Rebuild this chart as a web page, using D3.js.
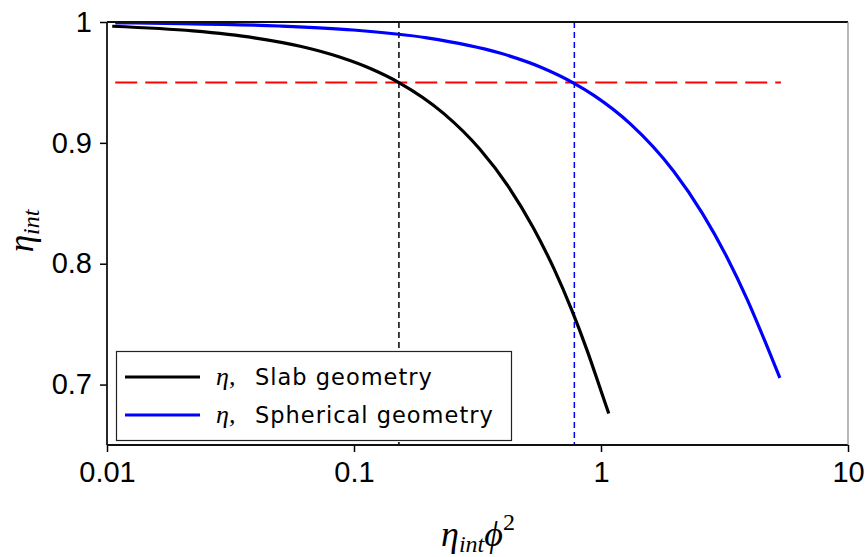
<!DOCTYPE html>
<html>
<head>
<meta charset="utf-8">
<script src="https://cdn.jsdelivr.net/npm/d3@7/dist/d3.min.js"></script>
<style>
  html, body { margin: 0; padding: 0; background: #fff; }
  svg { display: block; }
  .tick text { font-family: "Liberation Sans", Arial, sans-serif; }
</style>
</head>
<body>
<svg id="chart" width="865" height="557"></svg>
<script>
// Effectiveness factor vs. eta*phi^2 for slab and spherical catalyst geometry
const slabX = [0.0105, 0.0223, 0.0395, 0.0612, 0.0874, 0.1177, 0.152, 0.2311, 0.3222, 0.4231, 0.5312, 0.6447, 0.7616, 0.8806, 1.0004, 1.075];
const slabY = [0.9965, 0.9926, 0.9869, 0.9797, 0.9710, 0.9611, 0.9499, 0.9242, 0.8951, 0.8634, 0.8300, 0.7959, 0.7616, 0.7277, 0.6947, 0.6760];

const sphereX = [0.0108, 0.020, 0.0498, 0.0993, 0.1974, 0.3897, 0.5773, 0.772, 0.939, 1.318, 1.972, 2.577, 3.224, 3.902, 4.602, 5.30];
const sphereY = [0.9993, 0.9987, 0.9967, 0.9934, 0.9869, 0.9743, 0.9622, 0.9497, 0.9391, 0.9155, 0.8763, 0.8415, 0.8060, 0.7707, 0.7363, 0.7055];

// 95% effectiveness threshold and where each curve crosses it
const thresholdY = 0.95;
const thresholdX = [0.0108, 5.35];
const slabCross = 0.152;
const sphereCross = 0.78;

const xTicks = [0.01, 0.1, 1, 10];
const xTickLabels = ["0.01", "0.1", "1", "10"];
const yTicks = [0.7, 0.8, 0.9, 1.0];
const yTickLabels = ["0.7", "0.8", "0.9", "1"];

const legendLabels = ["Slab geometry", "Spherical geometry"];
const seriesColors = ["#000000", "#0000ff"];

const svg = d3.select("#chart");
const plotL = 107, plotR = 848, plotT = 22, plotB = 445;

const x = d3.scaleLog().domain([0.01, 10]).range([plotL, plotR]);
const y = d3.scaleLinear().domain([0.65, 1.0]).range([plotB, plotT]);

const plot = svg.append("g");

// Reference lines
plot.append("line")
  .attr("x1", x(slabCross)).attr("x2", x(slabCross))
  .attr("y1", y(1.0)).attr("y2", y(0.65))
  .attr("stroke", "#000").attr("stroke-width", 1.5).attr("stroke-dasharray", "6,4");
plot.append("line")
  .attr("x1", x(sphereCross)).attr("x2", x(sphereCross))
  .attr("y1", y(1.0)).attr("y2", y(0.65))
  .attr("stroke", "#0000ff").attr("stroke-width", 1.5).attr("stroke-dasharray", "6,4");
plot.append("line")
  .attr("x1", x(thresholdX[0])).attr("x2", x(thresholdX[1]))
  .attr("y1", y(thresholdY)).attr("y2", y(thresholdY))
  .attr("stroke", "#ff0000").attr("stroke-width", 2).attr("stroke-dasharray", "22,8");

// Curves
const line = d3.line().x(d => x(d[0])).y(d => y(d[1])).curve(d3.curveMonotoneX);
const series = [d3.zip(slabX, slabY), d3.zip(sphereX, sphereY)];
series.forEach((pts, i) => {
  plot.append("path")
    .datum(pts)
    .attr("d", line)
    .attr("fill", "none")
    .attr("stroke", seriesColors[i])
    .attr("stroke-width", 3.2);
});

// Axes
const xAxis = d3.axisBottom(x).tickValues(xTicks)
  .tickFormat((d, i) => xTickLabels[i]).tickSize(7).tickPadding(9);
const gx = svg.append("g").attr("transform", `translate(0,${plotB})`).call(xAxis);
gx.select(".domain").remove();
gx.selectAll(".tick line").attr("stroke", "#000").attr("stroke-width", 1.5);
gx.selectAll(".tick text").attr("font-size", 29).attr("fill", "#000");

const yAxis = d3.axisLeft(y).tickValues(yTicks)
  .tickFormat((d, i) => yTickLabels[i]).tickSize(7).tickPadding(8);
const gy = svg.append("g").attr("transform", `translate(${plotL},0)`).call(yAxis);
gy.select(".domain").remove();
gy.selectAll(".tick line").attr("stroke", "#000").attr("stroke-width", 1.5);
gy.selectAll(".tick text").attr("font-size", 29).attr("fill", "#000");

// Frame
svg.append("line").attr("x1", plotL).attr("x2", plotR).attr("y1", plotT).attr("y2", plotT)
  .attr("stroke", "#111").attr("stroke-width", 1.8);
svg.append("line").attr("x1", plotL).attr("x2", plotR).attr("y1", plotB).attr("y2", plotB)
  .attr("stroke", "#111").attr("stroke-width", 1.8);
svg.append("line").attr("x1", plotL).attr("x2", plotL).attr("y1", plotT).attr("y2", plotB)
  .attr("stroke", "#111").attr("stroke-width", 1.8);
svg.append("line").attr("x1", plotR).attr("x2", plotR).attr("y1", plotT).attr("y2", plotB)
  .attr("stroke", "#888").attr("stroke-width", 1.2);

// Legend
const lg = svg.append("g");
lg.append("rect")
  .attr("x", 116.5).attr("y", 351.5).attr("width", 395).attr("height", 89)
  .attr("fill", "#fff").attr("stroke", "#222").attr("stroke-width", 1.2);
legendLabels.forEach((lab, i) => {
  const ly = 377 + i * 38;
  lg.append("line").attr("x1", 125).attr("x2", 200).attr("y1", ly).attr("y2", ly)
    .attr("stroke", seriesColors[i]).attr("stroke-width", 3.2);
  const t = lg.append("text").attr("x", 216).attr("y", ly + 8)
    .attr("fill", "#000");
  t.append("tspan").attr("font-family", "'Liberation Serif', serif").attr("font-style", "italic")
    .attr("font-size", 26).text("η,");
  t.append("tspan").attr("x", 255).attr("font-family", "'DejaVu Sans', sans-serif")
    .attr("font-size", 22.5).attr("letter-spacing", 1).text(lab);
});

// Axis titles
const xt = svg.append("text").attr("x", 478).attr("y", 546).attr("text-anchor", "middle")
  .attr("font-family", "'Liberation Serif', serif").attr("font-style", "italic").attr("fill", "#000");
xt.append("tspan").attr("font-size", 36).text("η");
xt.append("tspan").attr("font-size", 24).attr("dy", 6).text("int");
xt.append("tspan").attr("font-size", 36).attr("dy", -6).text("ϕ");
xt.append("tspan").attr("font-size", 24).attr("font-style", "normal").attr("dy", -16).text("2");

const yt = svg.append("text").attr("transform", "translate(33,231) rotate(-90)").attr("text-anchor", "middle")
  .attr("font-family", "'Liberation Serif', serif").attr("font-style", "italic").attr("fill", "#000");
yt.append("tspan").attr("font-size", 35).text("η");
yt.append("tspan").attr("font-size", 24).attr("dy", 6).text("int");
</script>
</body>
</html>
